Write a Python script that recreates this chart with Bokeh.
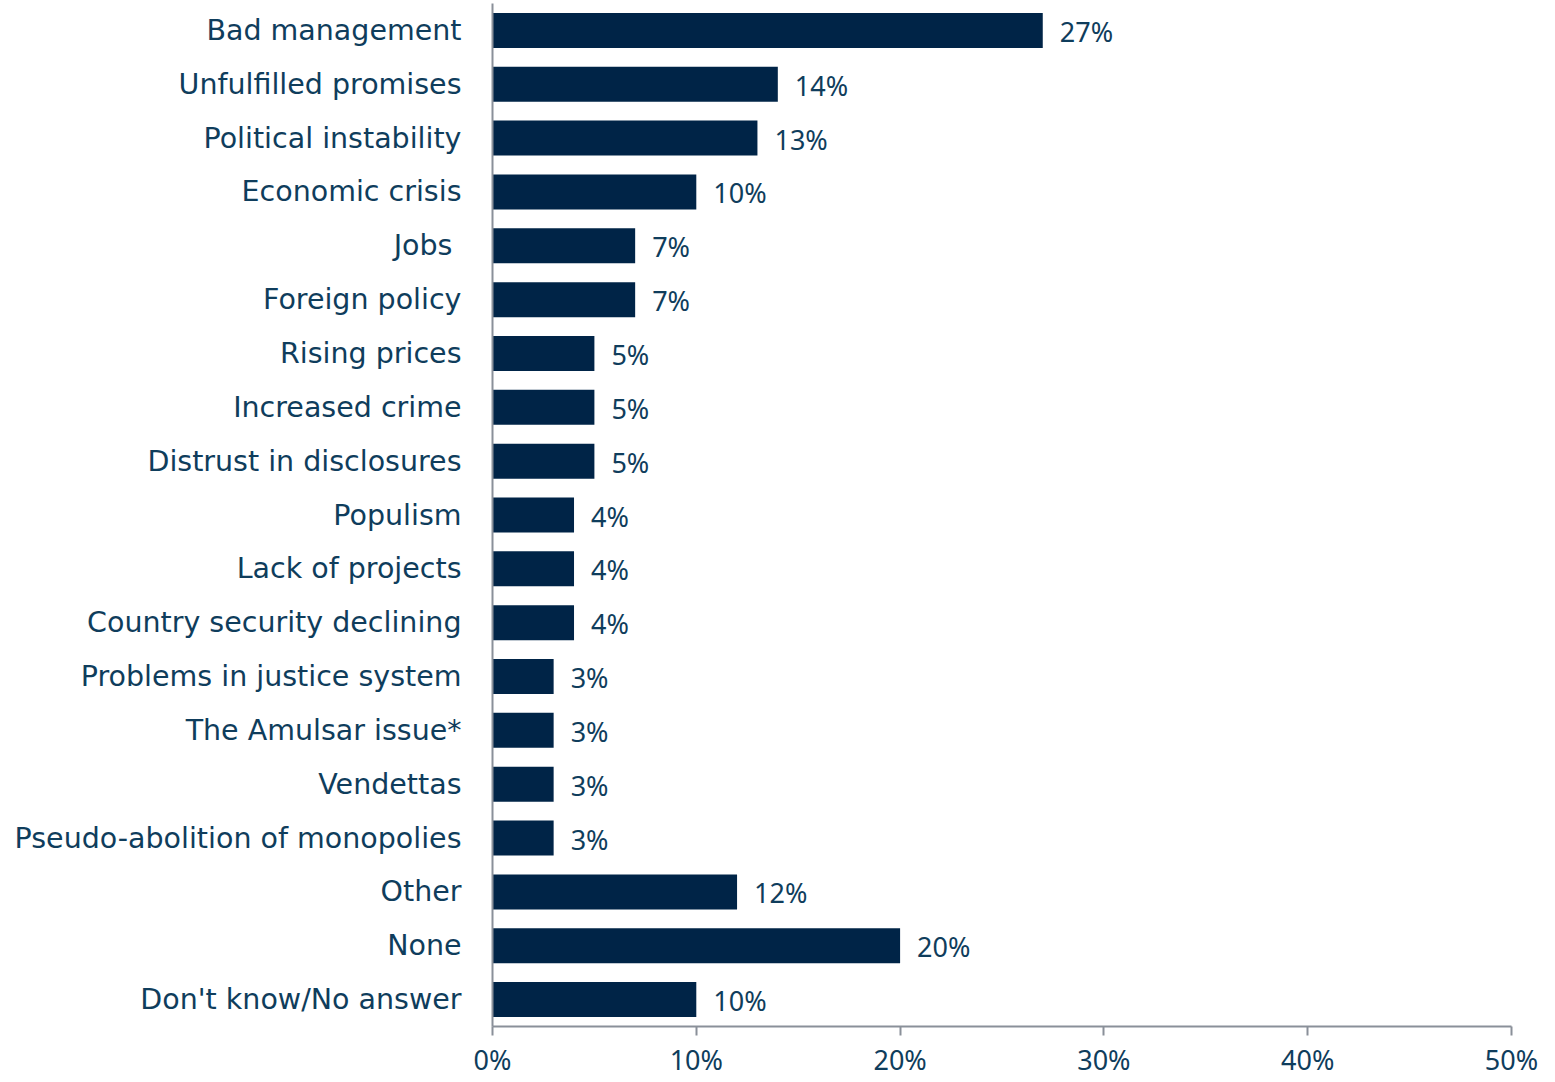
from bokeh.plotting import figure
from bokeh.models import ColumnDataSource, LabelSet, FixedTicker, PrintfTickFormatter
from bokeh.core.properties import value
from bokeh.embed import file_html
from bokeh.resources import INLINE

categories = ["Bad management", "Unfulfilled promises", "Political instability",
              "Economic crisis", "Jobs ", "Foreign policy", "Rising prices",
              "Increased crime", "Distrust in disclosures", "Populism",
              "Lack of projects", "Country security declining",
              "Problems in justice system", "The Amulsar issue*", "Vendettas",
              "Pseudo-abolition of monopolies", "Other", "None",
              "Don't know/No answer"]
values = [27, 14, 13, 10, 7, 7, 5, 5, 5, 4, 4, 4, 3, 3, 3, 3, 12, 20, 10]
value_labels = [f"{v}%" for v in values]
x_ticks = [0, 10, 20, 30, 40, 50]

BAR = "#002447"
TEXT = "#0f3d5c"
AXIS = "#8a9099"
CAT_FONT = "DejaVu Sans"
NUM_FONT = "Noto Sans"

src = ColumnDataSource(dict(cat=categories, val=values, lab=value_labels))

p = figure(y_range=list(reversed(categories)), x_range=(0, 50),
           width=1550, height=1080, output_backend="svg", toolbar_location=None,
           min_border_left=492, min_border_right=39, min_border_top=3,
           min_border_bottom=50)
p.hbar(y="cat", right="val", height=0.65, source=src, color=BAR, line_color=None)

labels = LabelSet(x="val", y="cat", text="lab", source=src, x_offset=17, y_offset=-1,
                  text_baseline="middle", text_align="left",
                  text_font=value(NUM_FONT), text_font_size="27px", text_color=TEXT)
p.add_layout(labels)

p.outline_line_color = None
p.grid.grid_line_color = None

p.xaxis.ticker = FixedTicker(ticks=x_ticks)
p.xaxis.formatter = PrintfTickFormatter(format="%d%%")
p.xaxis.axis_line_color = AXIS
p.xaxis.axis_line_width = 2
p.xaxis.major_tick_line_color = AXIS
p.xaxis.major_tick_line_width = 2
p.xaxis.major_tick_out = 9
p.xaxis.major_tick_in = 0
p.xaxis.minor_tick_line_color = None
p.xaxis.major_label_text_font = NUM_FONT
p.xaxis.major_label_text_font_size = "27px"
p.xaxis.major_label_text_color = TEXT
p.xaxis.major_label_standoff = 5

p.yaxis.axis_line_color = AXIS
p.yaxis.axis_line_width = 2
p.yaxis.major_tick_line_color = None
p.yaxis.minor_tick_line_color = None
p.yaxis.major_label_text_font = CAT_FONT
p.yaxis.major_label_text_font_size = "28.5px"
p.yaxis.major_label_text_color = TEXT
p.yaxis.major_label_standoff = 25

open("out.html", "w").write(file_html(p, INLINE))
